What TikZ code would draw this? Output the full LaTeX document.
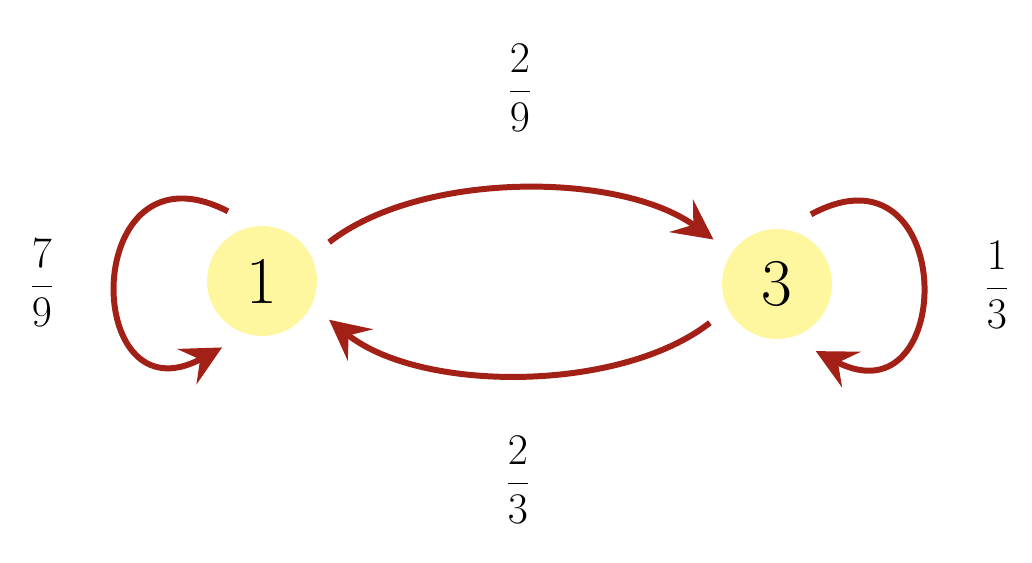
\documentclass[tikz,border=0pt]{standalone}
\usetikzlibrary{arrows.meta}
\definecolor{arr}{RGB}{162,32,22}
\definecolor{nodefill}{RGB}{255,247,160}
\begin{document}
\begin{tikzpicture}[x=0.02cm,y=-0.02cm,
  st/.style={circle,fill=nodefill,minimum size=2.2cm,inner sep=0pt,outer sep=0.45cm,font=\fontsize{38}{40}\selectfont},
  ar/.style={draw=arr,line width=3.4pt,-{Stealth[length=0.8cm,width=0.8cm,inset=0.3cm]}},
  lbl/.style={font=\fontsize{42}{48}\selectfont}]
\useasboundingbox (0,0) rectangle (1032,562);
\node[st] (n1) at (262,281) {1};
\node[st] (n3) at (777,284) {3};
\draw[ar] (n1.30) .. controls (420,171) and (620,171) .. (n3.145);
\draw[ar] (n3.210) .. controls (620,393) and (420,393) .. (n1.330);
\draw[ar] (n1.116) .. controls (80,135) and (80,425) .. (n1.239);
\draw[ar] (n3.64) .. controls (958,135) and (958,425) .. (n3.300);
\node[lbl] (l1) at (520,88) {$\displaystyle\frac{2}{9}$};
\node[lbl] (l2) at (518,480) {$\displaystyle\frac{2}{3}$};
\node[lbl] (l3) at (42,283) {$\displaystyle\frac{7}{9}$};
\node[lbl] (l4) at (997,285) {$\displaystyle\frac{1}{3}$};
\end{tikzpicture}
\end{document}
